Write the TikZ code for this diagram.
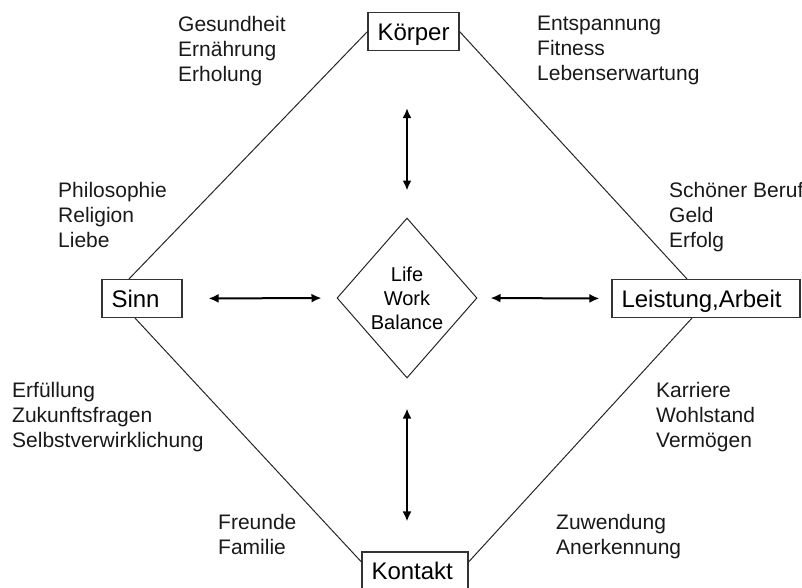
\documentclass[tikz,border=0pt]{standalone}
\usepackage{fontspec}
\setmainfont{Liberation Sans}
\usetikzlibrary{shapes.geometric,arrows.meta}
\begin{document}
\begin{tikzpicture}[x=1pt,y=-1pt,
  box/.style={draw=black!80, line width=1.1pt, inner ysep=0pt, inner xsep=9.5pt, align=left,
    font=\fontsize{24}{26}\selectfont, text height=18pt, text depth=1pt, minimum height=38pt},
  lst/.style={anchor=north west, inner sep=0pt, align=left, font=\fontsize{21}{25}\selectfont, text=black!90},
  edgeline/.style={draw=black!85, line width=1pt},
  arr/.style={line width=2pt, {Latex[length=10pt,width=9pt]}-{Latex[length=10pt,width=9pt]}}
]
\useasboundingbox (0,0) rectangle (802,587);

% boxes
\node[box, text width=72pt] (koerper) at (413.5,31.5) {Körper};
\node[box, text width=61pt] (sinn) at (142,298.5) {Sinn};
\node[box, text width=169pt] (leistung) at (706,298.5) {Leistung,Arbeit};
\node[box, text width=87pt] (kontakt) at (415,571) {Kontakt};

% centre diamond
\node[diamond, draw=black!85, line width=1pt, inner sep=0pt, aspect=0.875,
  minimum width=140pt, minimum height=160pt, align=center,
  font=\fontsize{20}{24}\selectfont] (lwb) at (407,298) {Life\\Work\\Balance};

% outer connectors
\draw[edgeline] (koerper.west) -- ([xshift=-13pt]sinn.north);
\draw[edgeline] (koerper.east) -- ([xshift=-19pt]leistung.north);
\draw[edgeline] ([xshift=-14pt]leistung.south) -- ([yshift=9pt]kontakt.east);
\draw[edgeline] ([xshift=-7pt]sinn.south) -- ([yshift=9pt]kontakt.west);

% arrows
\draw[arr, shorten <=26pt, shorten >=15pt] (sinn.east) -- (lwb.west);
\draw[arr, shorten <=13pt, shorten >=12pt] (lwb.east) -- (leistung.west);
\draw[arr, shorten <=57pt, shorten >=27pt] (lwb.north |- koerper.south) -- (lwb.north);
\draw[arr, shorten <=30pt, shorten >=30pt] (lwb.south) -- (lwb.south |- kontakt.north);

% lists
\node[lst] (l1) at (178,16) {Gesundheit\\Ernährung\\Erholung};
\node[lst] (l2) at (537,16) {Entspannung\\Fitness\\Lebenserwartung};
\node[lst] (l3) at (58,182) {Philosophie\\Religion\\Liebe};
\node[lst] (l4) at (669,182) {Schöner Beruf\\Geld\\Erfolg};
\node[lst] (l5) at (12,382) {Erfüllung\\Zukunftsfragen\\Selbstverwirklichung};
\node[lst] (l6) at (656,382) {Karriere\\Wohlstand\\Vermögen};
\node[lst] (l7) at (218,514) {Freunde\\Familie};
\node[lst] (l8) at (556,514) {Zuwendung\\Anerkennung};
\end{tikzpicture}
\end{document}
